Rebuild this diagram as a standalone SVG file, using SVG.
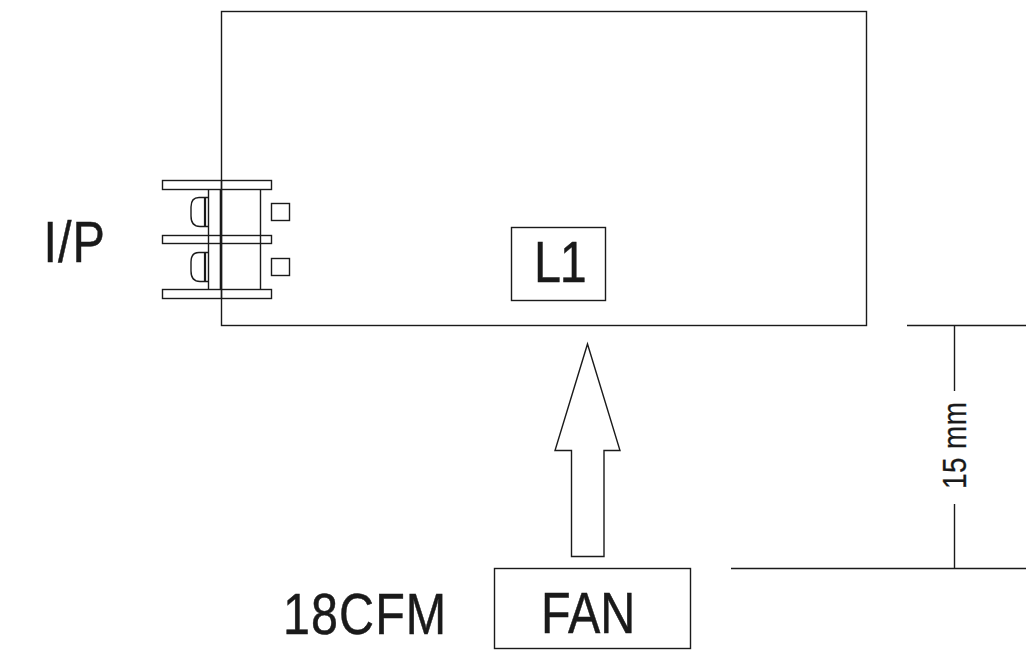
<svg xmlns="http://www.w3.org/2000/svg" width="1026" height="658" viewBox="0 0 1026 658">
<style>
.l{fill:none;stroke:#1a1a1a;stroke-width:1.4}
.t{font-family:"Liberation Sans",Arial,sans-serif;fill:#1a1a1a;stroke:#1a1a1a;stroke-width:.5;font-size:57px}
</style>
<rect width="1026" height="658" fill="#fff"/>
<g id="board"><rect class="l" x="221.500" y="11.500" width="645" height="314"/></g>
<g id="connector-ip">
<path class="l" d="M208.500 189V289M260.500 189V289"/>
<path d="M220.700 189V289" fill="none" stroke="#1a1a1a" stroke-width="2"/>
<rect class="l" x="162.500" y="180.500" width="109" height="9"/>
<rect class="l" x="162.500" y="235.500" width="109" height="8"/>
<rect class="l" x="162.500" y="289.500" width="109" height="9"/>
<path class="l" d="M208 197.500H199C193 197.500 191 201 191 207V216C191 223 194 226.500 200 226.500H208"/>
<path class="l" d="M208 252.500H199C193 252.500 191 256 191 262V271C191 278 194 281.500 200 281.500H208"/>
<path d="M205 197.500V226.500M205 252.500V281.500" fill="none" stroke="#1a1a1a" stroke-width="2.200"/>
<path class="l" d="M221.500 180V299"/>
<rect class="l" x="271.500" y="203.500" width="18" height="17"/>
<rect class="l" x="271.500" y="258.500" width="18" height="17"/>
</g>
<g id="ip-label"><text class="t" transform="translate(43.500 262) scale(.85 1)" textLength="72" lengthAdjust="spacing">I/P</text></g>
<g id="l1"><rect class="l" x="511.500" y="227.500" width="94" height="73"/><text class="t" transform="translate(534 282) scale(.85 1)" textLength="62" lengthAdjust="spacing">L1</text></g>
<g id="connectors">
<path class="l" d="M587.500 344L620 450.500H604V556.500H571.500V450.500H555Z"/>
<path class="l" d="M907 325.500H1026M731 568.500H1026M954.500 325.500V391M954.500 504V568.500"/>
</g>
<g id="dim-label"><text class="t" transform="translate(966 489) rotate(-90) scale(.82 1)" style="font-size:34px;stroke-width:.3" textLength="106" lengthAdjust="spacing">15 mm</text></g>
<g id="fan"><rect class="l" x="494.500" y="568.500" width="196" height="80"/><text class="t" transform="translate(541 633) scale(.85 1)" textLength="111" lengthAdjust="spacing">FAN</text></g>
<g id="cfm-label"><text class="t" transform="translate(283 634) scale(.85 1)" textLength="192" lengthAdjust="spacing">18CFM</text></g>
</svg>
